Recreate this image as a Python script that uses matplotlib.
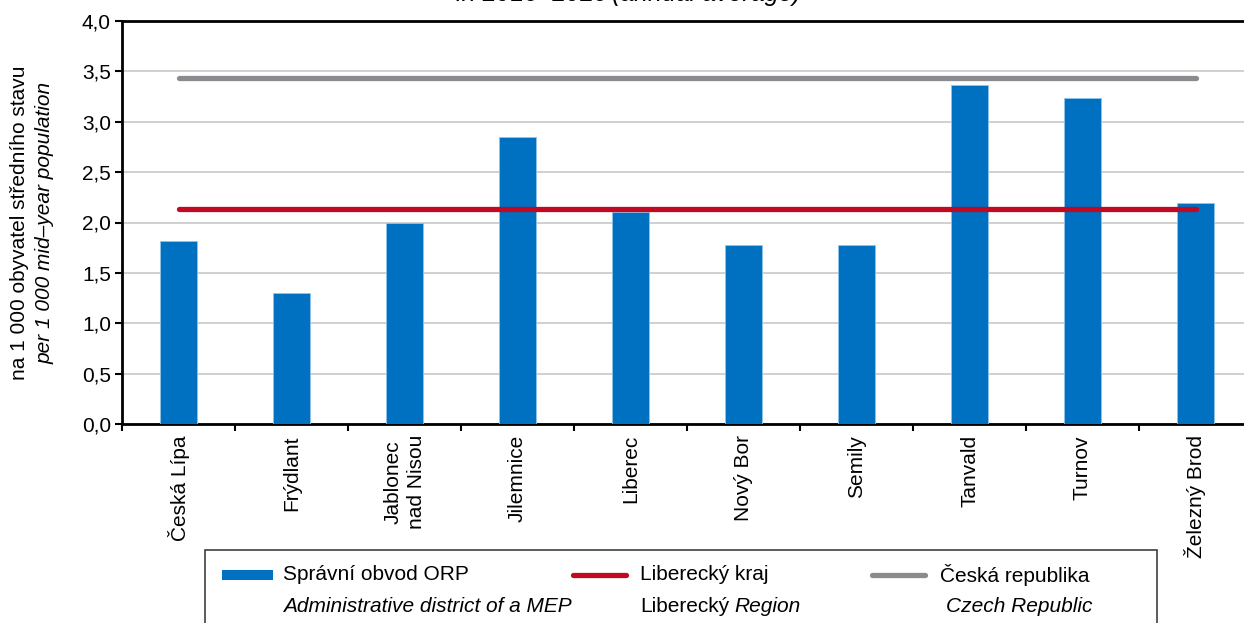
import matplotlib.pyplot as plt
from matplotlib.lines import Line2D
from matplotlib.patches import Rectangle

plt.rcParams['font.family'] = ['Liberation Sans', 'DejaVu Sans']

districts = ['Česká Lípa', 'Frýdlant', 'Jablonec\nnad Nisou', 'Jilemnice', 'Liberec',
             'Nový Bor', 'Semily', 'Tanvald', 'Turnov', 'Železný Brod']
orp_values = [1.82, 1.30, 2.00, 2.85, 2.10, 1.78, 1.78, 3.36, 3.24, 2.19]
region_value = 2.13
czech_value = 3.43
yticks = [0.0, 0.5, 1.0, 1.5, 2.0, 2.5, 3.0, 3.5, 4.0]

BLUE = '#0070C0'
RED = '#C00A23'
GREY = '#898B8E'
FS = 15

W, H = 1244, 623
fig = plt.figure(figsize=(W / 100, H / 100), dpi=100)
ax = fig.add_axes((122 / W, 1 - 424 / H, 1130 / W, 403 / H))

x = list(range(len(districts)))
ax.bar(x, orp_values, width=0.33, color=BLUE, edgecolor='#8FC3EA', linewidth=0.6, zorder=3)
ax.plot([x[0], x[-1]], [region_value, region_value], color=RED, lw=3.8,
        solid_capstyle='round', zorder=4)
ax.plot([x[0], x[-1]], [czech_value, czech_value], color=GREY, lw=3.8,
        solid_capstyle='round', zorder=4)

ax.set_xlim(-0.5, len(districts) - 0.5)
ax.set_ylim(0, 4.0)
ax.set_yticks(yticks)
ax.set_yticklabels([f'{v:.1f}'.replace('.', ',') for v in yticks], fontsize=FS)
ax.yaxis.grid(True, color='#C8C8C8', lw=1.2, zorder=0)
ax.set_axisbelow(True)

ax.set_xticks(x)
ax.set_xticklabels(districts, rotation=90, fontsize=FS, va='top', ha='center',
                   multialignment='center', linespacing=1.3)
ax.set_xticks([i - 0.5 for i in range(len(districts) + 1)], minor=True)
ax.tick_params(axis='x', which='major', length=0, pad=8)
ax.tick_params(axis='x', which='minor', length=5, width=1.5, direction='out')
ax.tick_params(axis='y', length=5, width=1.5, pad=3)

for s in ['left', 'bottom', 'top']:
    ax.spines[s].set_linewidth(2)
    ax.spines[s].set_color('black')
ax.spines['right'].set_visible(False)


def fx(px):
    return px / W


def fy(py):
    return 1 - py / H


# axis title (two languages)
fig.text(fx(20), fy(223), 'na 1 000 obyvatel středního stavu', rotation=90,
         ha='center', va='center', fontsize=FS)
fig.text(fx(45), fy(223), 'per 1 000 mid–year population', rotation=90,
         ha='center', va='center', fontsize=FS, style='italic')

# chart title, clipped at the top edge as in the source
t0 = fig.text(fx(455), fy(6), 'in 2016–2020', ha='left', va='bottom', fontsize=18)
ax.annotate('(annual average)', xy=(1, 0), xycoords=t0, xytext=(4, 0),
            textcoords='offset points', va='bottom', ha='left', fontsize=18,
            style='italic', annotation_clip=False)

# legend box
fig.patches.append(Rectangle((fx(205), fy(640)), fx(1157) - fx(205), fy(550) - fy(640),
                             transform=fig.transFigure, fill=False, edgecolor='#404040',
                             lw=1.2, zorder=5))
fig.patches.append(Rectangle((fx(222), fy(580)), fx(273) - fx(222), fy(570) - fy(580),
                             transform=fig.transFigure, facecolor=BLUE, edgecolor='none'))
fig.lines.append(Line2D([fx(573), fx(626)], [fy(575), fy(575)], transform=fig.transFigure,
                        color=RED, lw=3.8, solid_capstyle='round'))
fig.lines.append(Line2D([fx(872), fx(925)], [fy(575), fy(575)], transform=fig.transFigure,
                        color=GREY, lw=3.8, solid_capstyle='round'))

fig.text(fx(283), fy(575), 'Správní obvod ORP', va='center', fontsize=FS)
fig.text(fx(640), fy(575), 'Liberecký kraj', va='center', fontsize=FS)
fig.text(fx(940), fy(575), 'Česká republika', va='center', fontsize=FS)
fig.text(fx(283), fy(607), 'Administrative district of a MEP', va='center', fontsize=FS,
         style='italic')
t1 = fig.text(fx(640), fy(607), 'Liberecký', va='center', fontsize=FS)
ax.annotate('Region', xy=(1, 0.5), xycoords=t1, xytext=(3.5, 0), textcoords='offset points',
            va='center', ha='left', fontsize=FS, style='italic', annotation_clip=False)
fig.text(fx(1093), fy(607), 'Czech Republic', va='center', ha='right', fontsize=FS,
         style='italic')

fig.savefig('out.png', dpi=100)
